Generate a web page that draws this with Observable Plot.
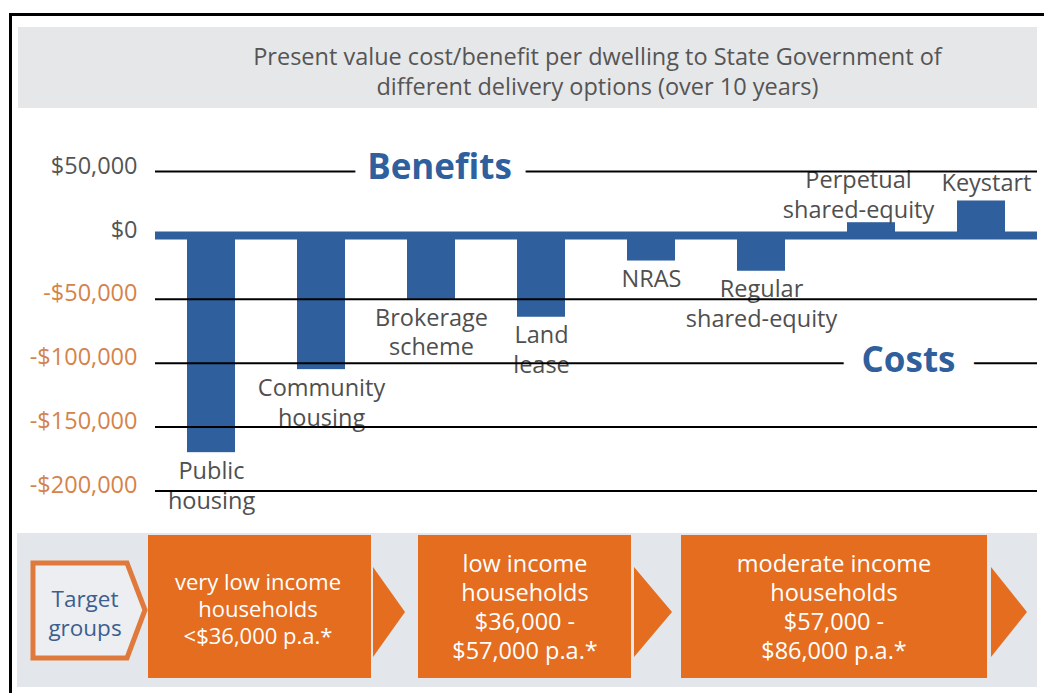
<!DOCTYPE html>
<html>
<head>
<meta charset="utf-8">
<script src="https://cdn.jsdelivr.net/npm/d3@7"></script>
<script src="https://cdn.jsdelivr.net/npm/@observablehq/plot@0.6"></script>
<style>
  html, body { margin: 0; padding: 0; background: #fff; }
  body { width: 1044px; height: 693px; overflow: hidden; position: relative; font-family: "Open Sans", sans-serif; }
  #frame { position: absolute; left: 9px; top: 13px; width: 1100px; height: 800px; border-left: 3px solid #000; border-top: 3px solid #000; }
  #title { position: absolute; left: 18px; top: 27px; width: 1019px; height: 81px; background: #e6e7e8; color: #555; font-size: 23.5px; line-height: 30px; text-align: center; display: flex; align-items: center; justify-content: center; padding-top: 6px; padding-left: 140px; box-sizing: border-box; white-space: nowrap; }
  #panel { position: absolute; left: 0; top: 0; }
  #chart { position: absolute; left: 0; top: 108px; }
</style>
</head>
<body>
<div id="frame"></div>
<div id="title"><div>Present value cost/benefit per dwelling to State Government of<br>different delivery options (over 10 years)</div></div>
<svg id="panel" width="1044" height="693"></svg>
<div id="chart"></div>
<script>
// ---- data ----
const categories = ["Public\nhousing", "Community\nhousing", "Brokerage\nscheme", "Land\nlease", "NRAS", "Regular\nshared-equity", "Perpetual\nshared-equity", "Keystart"];
const values = [-170000, -105000, -50000, -64000, -20000, -28000, 10000, 27000];
const yTicks = [50000, 0, -50000, -100000, -150000, -200000];
const yTickLabels = ["$50,000", "$0", "-$50,000", "-$100,000", "-$150,000", "-$200,000"];
const benefitsLabel = "Benefits";
const costsLabel = "Costs";
const targetLabel = ["Target", "groups"];
const groupLines = [
  ["very low income", "households", "<$36,000 p.a.*"],
  ["low income", "households", "$36,000 -", "$57,000 p.a.*"],
  ["moderate income", "households", "$57,000 -", "$86,000 p.a.*"]
];

const data = categories.map((c, i) => ({category: c, value: values[i]}));
const ticks = yTicks.map((v, i) => ({v, label: yTickLabels[i]}));

const BLUE = "#2f5f9c";
const GREY = "#4f4f4f";
const ORANGE = "#e46d20";
const FS = 23.5;

const chart = Plot.plot({
  width: 1044,
  height: 422,
  marginLeft: 155,
  marginRight: 7,
  marginTop: 0,
  marginBottom: 0,
  style: {fontFamily: "Open Sans", overflow: "visible", background: "transparent"},
  x: {domain: categories, range: [155, 1037], paddingInner: 0.568, paddingOuter: 0.29, axis: null},
  y: {domain: [-200000, 50000], range: [382.5, 63.1], axis: null},
  marks: [
    Plot.barY(data, {x: "category", y: "value", fill: BLUE}),
    Plot.text(data.filter(d => d.value < 0), {x: "category", y: "value", text: "category", lineAnchor: "top", dy: 5, fontSize: FS, lineHeight: 1.27, fill: GREY}),
    Plot.text(data.filter(d => d.category.startsWith("Perpetual")), {x: "category", y: "value", text: "category", lineAnchor: "bottom", dy: -5, dx: -13, fontSize: FS, lineHeight: 1.25, fill: GREY}),
    Plot.text(data.filter(d => d.category === "Keystart"), {x: "category", y: "value", text: "category", lineAnchor: "bottom", dy: -10, dx: 5, fontSize: FS, fill: GREY}),
    Plot.ruleY(yTicks.filter(v => v !== 0), {stroke: "#000", strokeWidth: 2}),
    Plot.ruleY([0], {stroke: BLUE, strokeWidth: 8}),
    Plot.text(ticks.filter(t => t.v >= 0), {y: "v", text: "label", frameAnchor: "left", textAnchor: "end", dx: -18, dy: -5, fontSize: FS, fill: "#555"}),
    Plot.text(ticks.filter(t => t.v < 0), {y: "v", text: "label", frameAnchor: "left", textAnchor: "end", dx: -18, dy: -6, fontSize: FS, fill: "#d5834c"}),
    Plot.text([benefitsLabel], {y: () => 50000, text: d => d, frameAnchor: "left", textAnchor: "middle", dx: 284, dy: -4, fontSize: 35, fontWeight: "bold", fill: BLUE, stroke: "#fff", strokeWidth: 30, strokeLinejoin: "round", paintOrder: "stroke"}),
    Plot.text([costsLabel], {y: () => -100000, text: d => d, frameAnchor: "left", textAnchor: "middle", dx: 753, dy: -2, fontSize: 35, fontWeight: "bold", fill: BLUE, stroke: "#fff", strokeWidth: 40, strokeLinejoin: "round", paintOrder: "stroke"})
  ]
});
document.getElementById("chart").appendChild(chart);

// ---- bottom "target groups" panel ----
const svg = d3.select("#panel");
svg.append("rect").attr("x", 17).attr("y", 533).attr("width", 1020).attr("height", 154).attr("fill", "#e3e6ea");
svg.append("polygon").attr("points", "33,563 127,563 145,610 127,658 33,658")
  .attr("fill", "#eceef2").attr("stroke", "#e07a3c").attr("stroke-width", 5).attr("stroke-linejoin", "miter");
svg.append("text").attr("x", 85).attr("y", 607).attr("text-anchor", "middle")
  .attr("font-family", "Open Sans").attr("font-size", 22.5).attr("fill", "#3d5e8e")
  .selectAll("tspan").data(targetLabel).join("tspan")
  .attr("x", 85).attr("dy", (d, i) => i === 0 ? 0 : 28.5).text(d => d);

const boxes = [
  {x0: 148, x1: 371, tx: 373, tip: 405, cx: 258, first: 590, step: 27, fs: 22},
  {x0: 418, x1: 631, tx: 634, tip: 672, cx: 525, first: 572, step: 29, fs: 23.5},
  {x0: 681, x1: 987, tx: 991, tip: 1027, cx: 834, first: 572, step: 29, fs: 23.5}
];
boxes.forEach((b, i) => {
  svg.append("rect").attr("x", b.x0).attr("y", 535).attr("width", b.x1 - b.x0).attr("height", 143).attr("fill", ORANGE);
  svg.append("polygon").attr("points", `${b.tx},567 ${b.tip},612 ${b.tx},657`).attr("fill", ORANGE);
  const t = svg.append("text").attr("text-anchor", "middle").attr("font-family", "Open Sans")
    .attr("font-size", b.fs).attr("fill", "#fff").attr("y", b.first);
  t.selectAll("tspan").data(groupLines[i]).join("tspan")
    .attr("x", b.cx).attr("dy", (d, j) => j === 0 ? 0 : b.step).text(d => d);
});
</script>
</body>
</html>
